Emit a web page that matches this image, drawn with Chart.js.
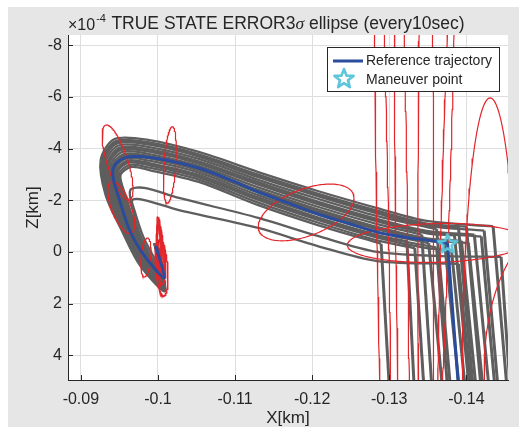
<!DOCTYPE html>
<html>
<head>
<meta charset="utf-8">
<title>TRUE STATE ERROR 3σ ellipse</title>
<script src="https://cdn.jsdelivr.net/npm/chart.js@4.4.1/dist/chart.umd.min.js"></script>
<style>
  html, body { margin: 0; padding: 0; background: #fff; }
  canvas { display: block; }
</style>
</head>
<body>
<canvas id="errChart" width="519" height="431"></canvas>
<script>
/* ------------------------------------------------------------
   Relative motion, X-Z plane. X in km, Z in 1e-4 km.
------------------------------------------------------------ */

const X_TICKS = [-0.09, -0.10, -0.11, -0.12, -0.13, -0.14];
const Z_TICKS = [-8, -6, -4, -2, 0, 2, 4];

// reference trajectory: coast arc up to the maneuver, then the burn leg
const REF_X = [-0.09973, -0.10080, -0.09801, -0.09630, -0.09501, -0.09424, -0.09415, -0.09459, -0.09587, -0.09758,
               -0.10102, -0.10530, -0.10915, -0.11301, -0.11686, -0.12072, -0.12457, -0.12843, -0.13229, -0.13614, -0.13756];
const REF_Z = [-0.23, 1.01, 0.05, -0.85, -2.01, -2.78, -3.17, -3.44, -3.66, -3.69,
               -3.56, -3.25, -2.82, -2.32, -1.90, -1.47, -1.12, -0.77, -0.56, -0.41, -0.34];
const REF_BURN_X = [-0.13756, -0.13910];
const REF_BURN_Z = [-0.34, 5.72];

const MANEUVER_X = [-0.13756];
const MANEUVER_Z = [-0.34];

// Monte Carlo runs (true state), coast phase up to each run's own maneuver
const RUN_X = [
  [-0.09950, -0.10092, -0.09771, -0.09527, -0.09321, -0.09257, -0.09437, -0.09887, -0.10529, -0.11301, -0.12072, -0.12843, -0.13486, -0.14347],
  [-0.09955, -0.10090, -0.09786, -0.09543, -0.09341, -0.09277, -0.09454, -0.09887, -0.10529, -0.11301, -0.12072, -0.12843, -0.13486, -0.14000],
  [-0.09957, -0.10089, -0.09793, -0.09551, -0.09351, -0.09287, -0.09462, -0.09887, -0.10529, -0.11301, -0.12072, -0.12843, -0.13486, -0.13897],
  [-0.09960, -0.10088, -0.09801, -0.09559, -0.09361, -0.09297, -0.09471, -0.09887, -0.10529, -0.11301, -0.12072, -0.12843, -0.13486, -0.14231],
  [-0.09965, -0.10086, -0.09816, -0.09575, -0.09380, -0.09316, -0.09488, -0.09887, -0.10529, -0.11301, -0.12072, -0.12843, -0.13614],
  [-0.09970, -0.10084, -0.09830, -0.09590, -0.09400, -0.09336, -0.09504, -0.09887, -0.10529, -0.11301, -0.12072, -0.12843, -0.13486, -0.14103],
  [-0.09972, -0.10083, -0.09839, -0.09599, -0.09411, -0.09347, -0.09514, -0.09887, -0.10529, -0.11301, -0.12072, -0.12843, -0.13486, -0.14193],
  [-0.09975, -0.10082, -0.09845, -0.09606, -0.09420, -0.09356, -0.09521, -0.09887, -0.10529, -0.11301, -0.12072, -0.12843, -0.13486, -0.13846],
  [-0.09980, -0.10080, -0.09860, -0.09622, -0.09440, -0.09376, -0.09538, -0.09887, -0.10529, -0.11301, -0.12072, -0.12843, -0.13421],
  [-0.09984, -0.10078, -0.09875, -0.09638, -0.09459, -0.09395, -0.09555, -0.09887, -0.10529, -0.11301, -0.12072, -0.12843, -0.13486, -0.13936],
  [-0.09987, -0.10077, -0.09883, -0.09646, -0.09470, -0.09406, -0.09564, -0.09887, -0.10529, -0.11301, -0.12072, -0.12843, -0.13486, -0.14026],
  [-0.09989, -0.10076, -0.09890, -0.09654, -0.09479, -0.09415, -0.09572, -0.09887, -0.10529, -0.11301, -0.12072, -0.12843, -0.13486, -0.13717],
  [-0.09994, -0.10074, -0.09905, -0.09670, -0.09499, -0.09435, -0.09589, -0.09887, -0.10529, -0.11301, -0.12072, -0.12843, -0.13511],
  [-0.09999, -0.10072, -0.09919, -0.09685, -0.09519, -0.09455, -0.09605, -0.09887, -0.10529, -0.11301, -0.12072, -0.12843, -0.13229],
  [-0.10002, -0.10071, -0.09927, -0.09694, -0.09529, -0.09465, -0.09614, -0.09887, -0.10529, -0.11301, -0.12072, -0.12843, -0.13614],
  [-0.10004, -0.10070, -0.09934, -0.09701, -0.09538, -0.09474, -0.09622, -0.09887, -0.10529, -0.11301, -0.12072, -0.12843, -0.13486, -0.13807],
  [-0.10009, -0.10068, -0.09949, -0.09717, -0.09558, -0.09494, -0.09639, -0.09887, -0.10529, -0.11301, -0.12072, -0.12843, -0.13331],
  [-0.10014, -0.10066, -0.09964, -0.09733, -0.09578, -0.09514, -0.09656, -0.09887, -0.10529, -0.11301, -0.12072, -0.12894],
  [-0.09977, -0.10080, -0.09977, -0.09784, -0.09668, -0.09643, -0.09823, -0.10272, -0.11301, -0.12072, -0.12843, -0.13614, -0.14450],
  [-0.09990, -0.10080, -0.09990, -0.09810, -0.09694, -0.09668, -0.09823, -0.10272, -0.11301, -0.12072, -0.12843, -0.13897]
];
const RUN_Z = [
  [-0.35, 1.51, 0.54, -0.85, -2.20, -3.56, -4.37, -4.33, -3.87, -3.09, -2.36, -1.70, -1.20, -0.99],
  [-0.33, 1.48, 0.54, -0.85, -2.20, -3.52, -4.29, -4.24, -3.78, -2.99, -2.26, -1.60, -1.10, -0.98],
  [-0.32, 1.47, 0.54, -0.85, -2.20, -3.49, -4.25, -4.20, -3.74, -2.94, -2.21, -1.54, -1.06, -0.96],
  [-0.31, 1.45, 0.54, -0.85, -2.20, -3.47, -4.20, -4.15, -3.69, -2.89, -2.16, -1.49, -1.01, -0.83],
  [-0.30, 1.42, 0.54, -0.85, -2.20, -3.43, -4.12, -4.06, -3.60, -2.79, -2.06, -1.39, -0.88],
  [-0.28, 1.39, 0.54, -0.85, -2.20, -3.38, -4.04, -3.97, -3.51, -2.70, -1.95, -1.28, -0.82, -0.67],
  [-0.27, 1.37, 0.54, -0.85, -2.20, -3.36, -3.99, -3.92, -3.46, -2.64, -1.90, -1.23, -0.77, -0.60],
  [-0.26, 1.36, 0.54, -0.85, -2.20, -3.34, -3.95, -3.88, -3.42, -2.60, -1.85, -1.18, -0.72, -0.64],
  [-0.24, 1.33, 0.54, -0.85, -2.20, -3.29, -3.87, -3.79, -3.33, -2.50, -1.75, -1.08, -0.67],
  [-0.23, 1.30, 0.54, -0.85, -2.20, -3.25, -3.79, -3.71, -3.25, -2.40, -1.65, -0.97, -0.53, -0.43],
  [-0.22, 1.28, 0.54, -0.85, -2.20, -3.22, -3.74, -3.66, -3.20, -2.35, -1.59, -0.92, -0.48, -0.35],
  [-0.21, 1.27, 0.54, -0.85, -2.20, -3.20, -3.71, -3.62, -3.16, -2.30, -1.55, -0.87, -0.44, -0.38],
  [-0.19, 1.24, 0.54, -0.85, -2.20, -3.16, -3.62, -3.53, -3.07, -2.20, -1.45, -0.77, -0.34],
  [-0.17, 1.21, 0.54, -0.85, -2.20, -3.11, -3.54, -3.44, -2.98, -2.11, -1.34, -0.66, -0.41],
  [-0.16, 1.19, 0.54, -0.85, -2.20, -3.09, -3.50, -3.39, -2.93, -2.05, -1.29, -0.61, -0.17],
  [-0.16, 1.18, 0.54, -0.85, -2.20, -3.07, -3.46, -3.35, -2.89, -2.01, -1.24, -0.56, -0.15, -0.07],
  [-0.14, 1.15, 0.54, -0.85, -2.20, -3.02, -3.37, -3.26, -2.80, -1.91, -1.14, -0.45, -0.15],
  [-0.12, 1.12, 0.54, -0.85, -2.20, -2.98, -3.29, -3.17, -2.71, -1.81, -1.04, -0.32],
  [-0.23, 1.20, 0.54, -0.54, -1.70, -2.40, -2.48, -2.09, -1.32, -0.62, 0.00, 0.15, 0.19],
  [-0.19, 1.12, 0.46, -0.58, -1.62, -2.01, -2.01, -1.62, -0.93, -0.23, 0.35, 0.46]
];
// end of each run's burn leg (below the visible range)
const DROP_X = [-0.14540, -0.14205, -0.14103, -0.14424, -0.13807, -0.14308, -0.14385, -0.14051, -0.13563, -0.14141,
                -0.14231, -0.13923, -0.13704, -0.13331, -0.13768, -0.14000, -0.13460, -0.13010, -0.14578, -0.14077];
const DROP_Z = [5.72, 5.72, 5.72, 5.72, 5.72, 5.72, 5.72, 5.72, 5.72, 5.72,
                5.72, 5.72, 5.72, 5.72, 5.72, 5.72, 5.72, 5.72, 5.72, 5.72];

// 3-sigma ellipses every 10 s: [centreX, centreZ, u_x, u_z, v_x, v_z] (conjugate semi-axes)
const ELLIPSES = [
  [-0.09476, -3.46, -0.00154,  1.45, -0.00129, -0.12],
  [-0.10154, -3.37,  0.00032,  1.48, -0.00077,  0],
  [-0.09523, -1.72, -0.00129,  1.00, -0.00116, -0.14],
  [-0.09844,  0.21,  0.00019,  0.75, -0.00064,  0],
  [-0.10015, -0.27,  0.00013, -1.08, -0.00026,  0],
  [-0.10022,  0.00, -0.00006,  0.97, -0.00045,  0],
  [-0.10041,  0.39, -0.00013,  0.85, -0.00058,  0],
  [-0.10048,  0.62, -0.00026,  1.08, -0.00077,  0],
  [-0.10028,  0.12,  0,        0.58, -0.00064,  0],
  [-0.10009, -0.46,  0.00006, -0.85, -0.00019,  0],
  [-0.10018, -0.15,  0.00004, -0.90, -0.00035,  0],
  [-0.10035,  0.25, -0.00008,  0.70, -0.00050,  0],
  [-0.11922, -1.53, -0.00621, -0.55,  0,        0.95],
  [-0.13614, -0.35, -0.01157, -0.08,  0,        0.75],
  [-0.12920, -0.08, -0.00086, 15.47, -0.00076,  0],
  [-0.13164, -0.08, -0.00062, 15.47, -0.00077,  0],
  [-0.13473, -0.08,  0,       15.47, -0.00103,  0],
  [-0.13743, -3.17,  0.00103, 10.06, -0.00051,  0],
  [-0.14308,  4.95,  0,       10.91, -0.00360,  0],
  [-0.15131,  4.56,  0,        5.49, -0.00900,  0]
];

const BLUE = '#2b4c9c';
const RED  = '#e3262b';
const GRAY = '#5e5e5e';
const CYAN = '#5cc6db';
const INK  = '#262626';
const FONT = '"Liberation Sans", Arial, Helvetica, sans-serif';

const xy = (xs, zs) => xs.map((x, i) => ({ x, y: zs[i] }));

function ellipsePoints(e) {
  const [cx, cz, ux, uz, vx, vz] = e;
  const pts = [];
  const n = 160;
  for (let i = 0; i <= n; i++) {
    const t = i / n * 2 * Math.PI;
    pts.push({ x: cx + ux * Math.cos(t) + vx * Math.sin(t),
               y: cz + uz * Math.cos(t) + vz * Math.sin(t) });
  }
  return pts;
}

// pentagram marker, outline only
function makeStar(size, color) {
  const c = document.createElement('canvas');
  c.width = c.height = size;
  const g = c.getContext('2d');
  const R = size / 2 - 2, r = R * 0.42;
  g.beginPath();
  for (let i = 0; i < 10; i++) {
    const a = -Math.PI / 2 + i * Math.PI / 5;
    const rr = i % 2 ? r : R;
    g.lineTo(size / 2 + rr * Math.cos(a), size / 2 + 1 + rr * Math.sin(a));
  }
  g.closePath();
  g.strokeStyle = color;
  g.lineWidth = 2.6;
  g.lineJoin = 'round';
  g.stroke();
  return c;
}
const starMarker = makeStar(24, CYAN);

const datasets = [];
datasets.push({
  label: 'Maneuver point', data: xy(MANEUVER_X, MANEUVER_Z),
  showLine: false, pointStyle: starMarker, pointRadius: 10, order: 0
});
datasets.push({
  label: 'Reference trajectory', data: xy(REF_X, REF_Z),
  borderColor: BLUE, borderWidth: 3, tension: 0.25, order: 1
});
datasets.push({
  label: 'Reference burn', data: xy(REF_BURN_X, REF_BURN_Z),
  borderColor: BLUE, borderWidth: 3, order: 1
});
ELLIPSES.forEach((e, i) => datasets.push({
  data: ellipsePoints(e), borderColor: RED,
  borderWidth: (i >= 4 && i <= 11) ? 1.6 : 1.2, order: 2
}));
RUN_X.forEach((xs, k) => {
  const zs = RUN_Z[k];
  const last = xs.length - 1;
  datasets.push({ data: xy(xs, zs), borderColor: GRAY, borderWidth: 2.3, tension: 0.3, order: 3 });
  datasets.push({
    data: [{ x: xs[last], y: zs[last] }, { x: DROP_X[k], y: DROP_Z[k] }],
    borderColor: GRAY, borderWidth: 3, order: 3
  });
});

// figure background, inward ticks, titles and legend
const figureDecor = {
  id: 'figureDecor',
  beforeDraw(chart) {
    const { ctx, chartArea: a } = chart;
    ctx.save();
    ctx.fillStyle = '#ffffff';
    ctx.fillRect(0, 0, chart.width, chart.height);
    ctx.fillStyle = '#e6e6e6';
    ctx.fillRect(8, 7, chart.width - 8, 420);
    ctx.fillStyle = '#ffffff';
    ctx.fillRect(a.left, a.top, a.right - a.left, a.bottom - a.top);
    ctx.restore();
  },
  afterDraw(chart) {
    const { ctx, chartArea: a } = chart;
    const xs = chart.scales.x, ys = chart.scales.y;
    ctx.save();

    // inward tick marks
    ctx.strokeStyle = INK;
    ctx.lineWidth = 1;
    ctx.beginPath();
    X_TICKS.forEach(v => {
      const px = Math.round(xs.getPixelForValue(v)) + 0.5;
      ctx.moveTo(px, a.bottom); ctx.lineTo(px, a.bottom - 5);
    });
    Z_TICKS.forEach(v => {
      const py = Math.round(ys.getPixelForValue(v)) + 0.5;
      ctx.moveTo(a.left, py); ctx.lineTo(a.left + 5, py);
    });
    ctx.stroke();

    ctx.fillStyle = INK;
    ctx.textBaseline = 'alphabetic';

    // exponent of the Z axis
    ctx.textAlign = 'left';
    ctx.font = '16px ' + FONT;
    ctx.fillText('\u00d710', a.left, 30);
    const w10 = ctx.measureText('\u00d710').width;
    ctx.font = '11px ' + FONT;
    ctx.fillText('-4', a.left + w10 + 1, 22);

    // title with italic sigma
    const t1 = 'TRUE STATE ERROR3', t2 = '\u03c3', t3 = ' ellipse (every10sec)';
    const fNorm = '17.5px ' + FONT, fSig = 'italic 17.5px "Liberation Serif", "DejaVu Serif", serif';
    ctx.font = fNorm; const w1 = ctx.measureText(t1).width, w3 = ctx.measureText(t3).width;
    ctx.font = fSig;  const w2 = ctx.measureText(t2).width;
    let tx = (a.left + a.right) / 2 - (w1 + w2 + w3) / 2;
    ctx.font = fNorm; ctx.fillText(t1, tx, 29); tx += w1;
    ctx.font = fSig;  ctx.fillText(t2, tx, 29); tx += w2;
    ctx.font = fNorm; ctx.fillText(t3, tx, 29);

    // axis labels
    ctx.font = '17px ' + FONT;
    ctx.textAlign = 'center';
    ctx.textBaseline = 'middle';
    ctx.fillText('X[km]', (a.left + a.right) / 2, 418);
    ctx.save();
    ctx.translate(33, (a.top + a.bottom) / 2);
    ctx.rotate(-Math.PI / 2);
    ctx.fillText('Z[km]', 0, 0);
    ctx.restore();

    // legend
    const lx = 327.5, ly = 47.5, lw = 172, lh = 44;
    ctx.fillStyle = '#ffffff';
    ctx.fillRect(lx, ly, lw, lh);
    ctx.strokeStyle = INK;
    ctx.lineWidth = 1;
    ctx.strokeRect(lx, ly, lw, lh);
    ctx.strokeStyle = BLUE;
    ctx.lineWidth = 3;
    ctx.beginPath();
    ctx.moveTo(333, 61); ctx.lineTo(363, 61);
    ctx.stroke();
    ctx.drawImage(starMarker, 344 - starMarker.width / 2, 78 - starMarker.height / 2);
    ctx.fillStyle = INK;
    ctx.font = '14px ' + FONT;
    ctx.textAlign = 'left';
    ctx.textBaseline = 'middle';
    ctx.fillText('Reference trajectory', 366, 61);
    ctx.fillText('Maneuver point', 366, 80);

    ctx.restore();
  }
};

const tickFmt = v => String(+Number(v).toFixed(2));

new Chart(document.getElementById('errChart'), {
  type: 'scatter',
  data: { datasets },
  options: {
    responsive: false,
    animation: false,
    events: [],
    devicePixelRatio: 1,
    layout: { padding: { left: 8, right: 7, top: 35, bottom: 0 } },
    elements: { line: { capBezierPoints: false } },
    datasets: {
      scatter: { showLine: true, pointRadius: 0, fill: false, tension: 0 }
    },
    plugins: {
      legend: { display: false },
      tooltip: { enabled: false },
      title: { display: false }
    },
    scales: {
      x: {
        type: 'linear',
        reverse: true,
        min: -0.14540,
        max: -0.08833,
        afterBuildTicks: s => { s.ticks = X_TICKS.map(v => ({ value: v })); },
        afterFit: s => { s.height = 51; },
        grid: { color: '#dedede', drawTicks: false },
        border: { color: INK, width: 1 },
        ticks: {
          autoSkip: false, maxRotation: 0, padding: 10,
          color: INK, font: { size: 16, family: FONT },
          callback: tickFmt
        }
      },
      y: {
        type: 'linear',
        reverse: true,
        min: -8.394,
        max: 4.952,
        afterBuildTicks: s => { s.ticks = Z_TICKS.map(v => ({ value: v })); },
        afterFit: s => { s.width = 60; },
        grid: { color: '#dedede', drawTicks: false },
        border: { color: INK, width: 1 },
        ticks: {
          autoSkip: false, padding: 6,
          color: INK, font: { size: 16, family: FONT },
          callback: tickFmt
        }
      }
    }
  },
  plugins: [figureDecor]
});
</script>
</body>
</html>
